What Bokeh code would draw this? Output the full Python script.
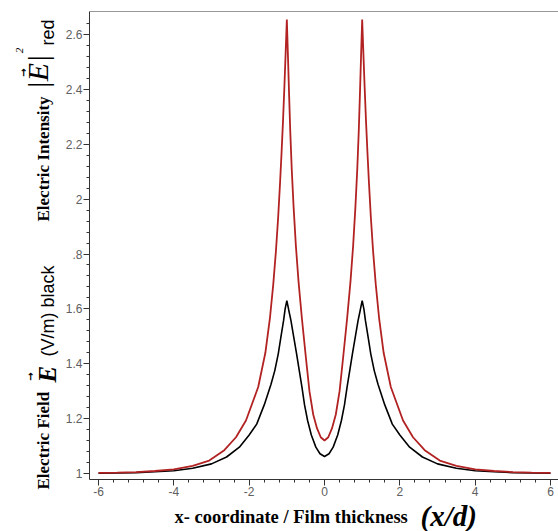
import numpy as np
from math import pi
from bokeh.plotting import figure
from bokeh.models import FixedTicker, Label, Span, Range1d
from bokeh.layouts import row, column
from bokeh.embed import file_html
from bokeh.resources import INLINE

# ---------------- data ----------------
X_TICKS = [-6, -4, -2, 0, 2, 4, 6]
X_TICK_LABELS = ["-6", "-4", "-2", "0", "2", "4", "6"]
Y_TICKS = [1.0, 1.2, 1.4, 1.6, 1.8, 2.0, 2.2, 2.4, 2.6]
Y_TICK_LABELS = ["1", "1.2", "1.4", "1.6", ".8", "2", "2.2", "2.4", "2.6"]

# Electric field |E| (black curve)
field_x = [-6.0, -5.5, -5.0, -4.5, -4.0, -3.5, -3.0, -2.6, -2.26, -2.0,
           -1.8, -1.6, -1.42, -1.32, -1.228, -1.16, -1.086, -1.045, -1.0, -0.95,
           -0.892, -0.82, -0.741, -0.67, -0.599, -0.53, -0.449, -0.35, -0.23, -0.12,
           0.0,
           0.12, 0.23, 0.35, 0.449, 0.53, 0.599, 0.67, 0.741, 0.82, 0.892,
           0.95, 1.0, 1.045, 1.086, 1.16, 1.228, 1.32, 1.42, 1.6, 1.8,
           2.0, 2.26, 2.6, 3.0, 3.5, 4.0, 4.5, 5.0, 5.5, 6.0]
field_y = [1.001, 1.002, 1.003, 1.006, 1.01, 1.019, 1.035, 1.06, 1.096, 1.14,
           1.18, 1.25, 1.325, 1.375, 1.436, 1.495, 1.558, 1.60, 1.63, 1.596,
           1.558, 1.50, 1.436, 1.375, 1.315, 1.25, 1.193, 1.14, 1.096, 1.072,
           1.062,
           1.072, 1.096, 1.14, 1.193, 1.25, 1.315, 1.375, 1.436, 1.50, 1.558,
           1.596, 1.63, 1.60, 1.558, 1.495, 1.436, 1.375, 1.325, 1.25, 1.18,
           1.14, 1.096, 1.06, 1.035, 1.019, 1.01, 1.006, 1.003, 1.002, 1.001]

# Electric intensity |E|^2 (red curve)
intensity_x = [-6.0, -5.5, -5.0, -4.5, -4.0, -3.5, -3.06, -2.66, -2.35, -2.085,
               -1.76, -1.57, -1.45, -1.36, -1.29, -1.23, -1.18, -1.14, -1.10, -1.065,
               -1.03, -1.0, -0.97, -0.94, -0.91, -0.87, -0.82, -0.76, -0.69, -0.6,
               -0.5, -0.4, -0.3, -0.2, -0.1,
               0.0,
               0.1, 0.2, 0.3, 0.4, 0.5, 0.6, 0.69, 0.76, 0.82, 0.87,
               0.91, 0.94, 0.97, 1.0, 1.03, 1.065, 1.10, 1.14, 1.18, 1.23,
               1.29, 1.36, 1.45, 1.57, 1.76, 2.085, 2.35, 2.66, 3.06, 3.5,
               4.0, 4.5, 5.0, 5.5, 6.0]
intensity_y = [1.002, 1.003, 1.005, 1.009, 1.015, 1.028, 1.047, 1.085, 1.132, 1.193,
               1.315, 1.44, 1.565, 1.69, 1.81, 1.935, 2.06, 2.17, 2.29, 2.41,
               2.54, 2.655, 2.52, 2.38, 2.25, 2.11, 1.97, 1.83, 1.70, 1.565,
               1.43, 1.30, 1.215, 1.165, 1.132,
               1.12,
               1.132, 1.165, 1.215, 1.30, 1.43, 1.565, 1.70, 1.83, 1.97, 2.11,
               2.25, 2.38, 2.52, 2.655, 2.54, 2.41, 2.29, 2.17, 2.06, 1.935,
               1.81, 1.69, 1.565, 1.44, 1.315, 1.193, 1.132, 1.085, 1.047, 1.028,
               1.015, 1.009, 1.005, 1.003, 1.002]

X_START, X_END = -6.239, 6.212
Y_START, Y_END = 0.978, 2.684

# ---------------- layout sizes (pixels) ----------------
W, H = 558, 531          # whole picture
LW = 60                  # strip holding the y-axis title
BH = 31                  # strip holding the x-axis title
MW, MH = W - LW, H - BH  # main plot
FRAME_LEFT = 89          # left edge of the plotting frame in the picture

# ---------------- main figure ----------------
p = figure(width=MW, height=MH, output_backend="svg", toolbar_location=None,
           x_range=Range1d(X_START, X_END), y_range=Range1d(Y_START, Y_END),
           min_border_left=FRAME_LEFT - LW, min_border_right=0, min_border_top=11,
           min_border_bottom=21)
p.outline_line_color = None
p.xgrid.grid_line_color = None
p.ygrid.grid_line_color = None
p.background_fill_color = "white"
p.border_fill_color = "white"

p.xaxis.ticker = FixedTicker(ticks=X_TICKS, minor_ticks=list(np.round(np.arange(-6.0, 6.01, 0.4), 3)))
p.yaxis.ticker = FixedTicker(ticks=Y_TICKS, minor_ticks=list(np.round(np.arange(1.0, 2.68, 0.04), 3)))
p.xaxis.major_label_overrides = dict(zip(X_TICKS, X_TICK_LABELS))
p.yaxis.major_label_overrides = dict(zip(Y_TICKS, Y_TICK_LABELS))

for ax in (p.xaxis, p.yaxis):
    ax.axis_line_color = "#333333"
    ax.axis_line_width = 1
    ax.major_tick_line_color = "#333333"
    ax.minor_tick_line_color = "#333333"
    ax.major_tick_out = 6
    ax.major_tick_in = 0
    ax.minor_tick_out = 3
    ax.minor_tick_in = 0
    ax.major_label_text_font = "Liberation Sans"
    ax.major_label_text_font_size = "12px"
    ax.major_label_text_color = "#606060"
    ax.major_label_standoff = 1

p.add_layout(Span(location=Y_END, dimension="width", line_color="#333333", line_width=1))

p.line(field_x, field_y, line_color="black", line_width=1.6)
p.line(intensity_x, intensity_y, line_color="#b22222", line_width=1.8)


def text_strip(w, h):
    f = figure(width=w, height=h, output_backend="svg", toolbar_location=None,
               x_axis_type=None, y_axis_type=None, min_border=0,
               x_range=Range1d(0, w), y_range=Range1d(0, h))
    f.outline_line_color = None
    f.xgrid.grid_line_color = None
    f.ygrid.grid_line_color = None
    f.background_fill_color = "white"
    f.border_fill_color = "white"
    return f


def lab(fig, text, x, y, font, size, style="normal", angle=pi / 2, align="left"):
    # x, y in pixels from the strip frame's left edge / bottom edge
    fig.add_layout(Label(x=x, y=y, x_units="screen", y_units="screen", text=text,
                         angle=angle, text_align=align, text_baseline="middle",
                         text_font=font, text_font_size=size, text_font_style=style,
                         text_color="black"))


# ---------------- y-axis title strip ----------------
yl = text_strip(LW, H)
lab(yl, "Electric Field", 43, H - 489, "Liberation Serif", "17px", "bold")
lab(yl, "\u2192", 30, H - 376, "DejaVu Sans", "10px", "bold", align="center")
lab(yl, "E", 47, H - 382, "Liberation Serif", "25px", "bold italic")
lab(yl, "(V/m) black", 47, H - 356, "Liberation Sans", "18px")
lab(yl, "Electric Intensity", 43, H - 221, "Liberation Serif", "17px", "bold")
lab(yl, "|E|", 37, H - 89, "Liberation Serif", "30px", "italic")
lab(yl, "\u2192", 23, H - 72, "DejaVu Sans", "10px", "bold", align="center")
lab(yl, "2", 19, H - 50, "Liberation Serif", "11px", "italic", align="center")
lab(yl, "red", 47, H - 45, "Liberation Sans", "18px")

# ---------------- x-axis title strip (its frame lines up with the plot frame) ----------------
xl = text_strip(MW, BH)
lab(xl, "x- coordinate / Film thickness", 174 - FRAME_LEFT, H - 516, "Liberation Serif", "18.5px", "bold", angle=0)
lab(xl, "(x/d)", 420 - FRAME_LEFT, H - 515, "Liberation Serif", "29px", "bold italic", angle=0)

layout = row(yl, column(p, xl))

open("out.html", "w").write(file_html(layout, INLINE))
